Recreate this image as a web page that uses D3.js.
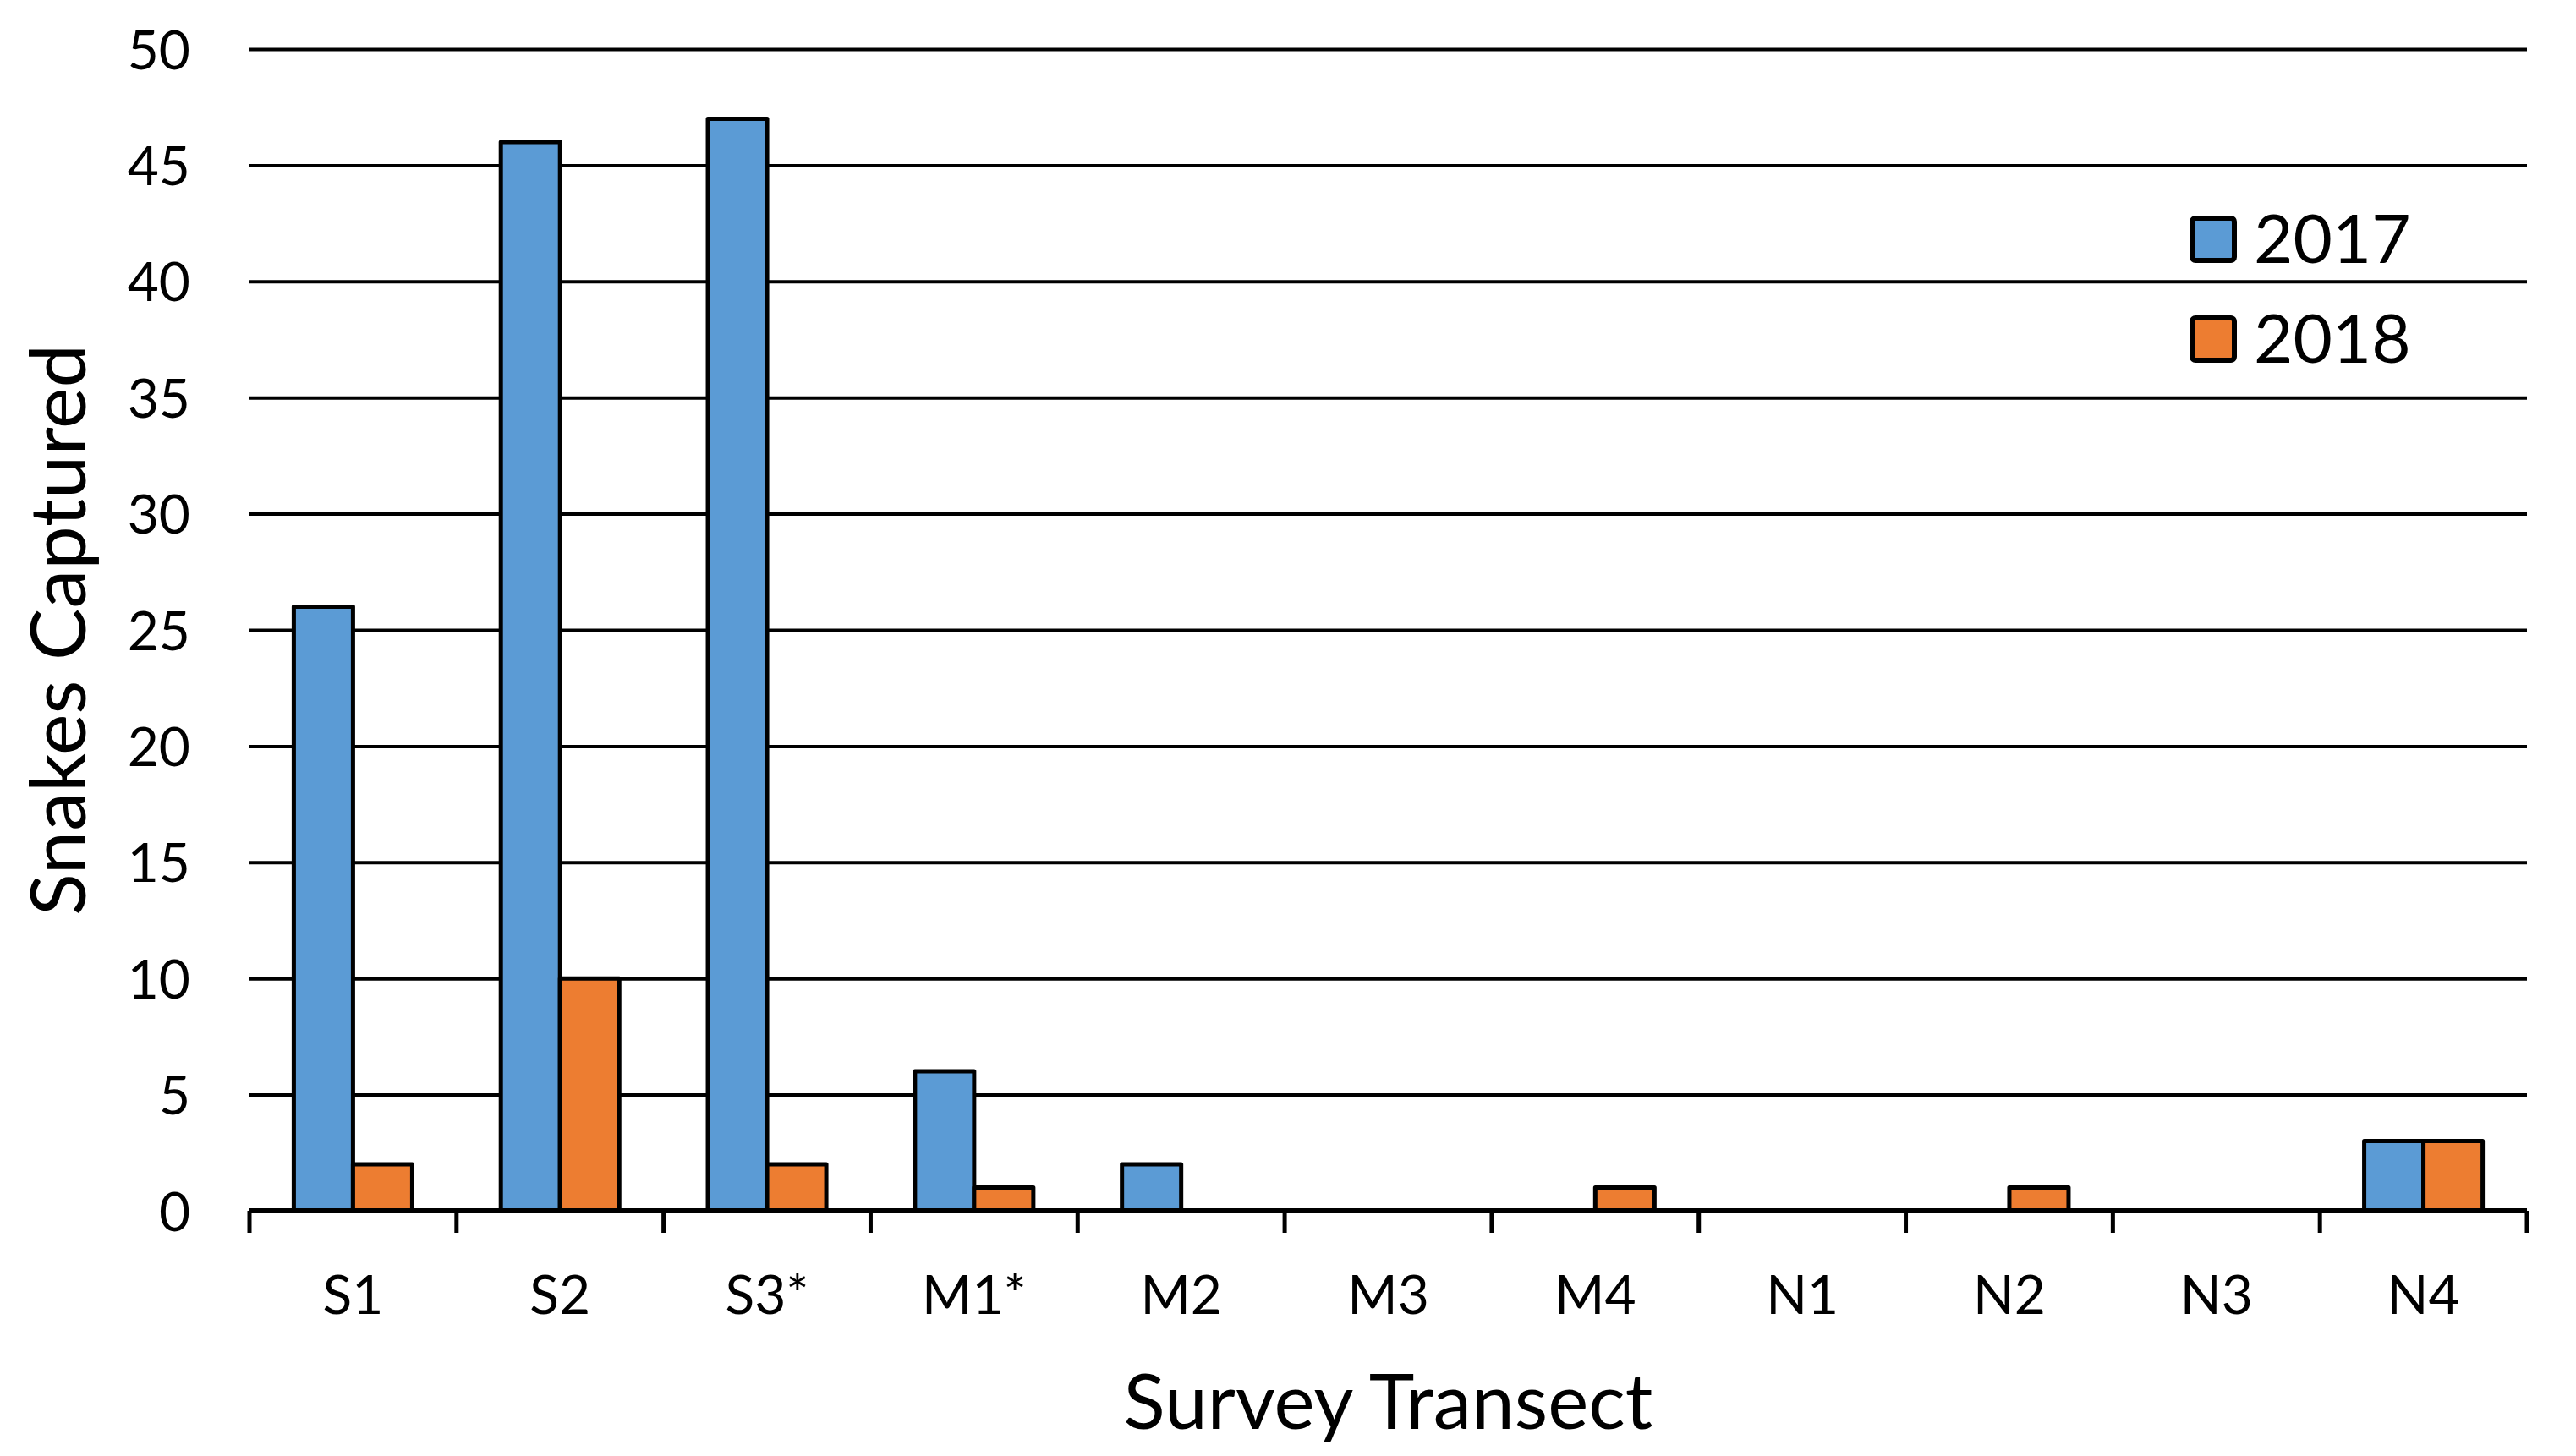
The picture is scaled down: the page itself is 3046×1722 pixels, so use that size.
<!DOCTYPE html>
<html>
<head>
<meta charset="utf-8">
<script src="https://cdn.jsdelivr.net/npm/d3@7"></script>
<style>
  body { margin: 0; background: #fff; }
  svg { display: block; font-family: Lato, "Open Sans", sans-serif; }
</style>
</head>
<body>
<div id="bar-chart"></div>
<script>
const transects = ["S1", "S2", "S3*", "M1*", "M2", "M3", "M4", "N1", "N2", "N3", "N4"];
const years = ["2017", "2018"];
const captures2017 = [26, 46, 47, 6, 2, 0, 0, 0, 0, 0, 3];
const captures2018 = [2, 10, 2, 1, 0, 0, 1, 0, 1, 0, 3];
const yTicks = [0, 5, 10, 15, 20, 25, 30, 35, 40, 45, 50];

const data = transects.map((t, i) => ({
  transect: t,
  values: [
    { year: "2017", value: captures2017[i] },
    { year: "2018", value: captures2018[i] },
  ],
}));

const width = 3046;
const height = 1722;
const margin = { top: 58, right: 58, bottom: 290, left: 295 };
const colors = ["#5B9BD5", "#ED7D31"];

const svg = d3
  .select("#bar-chart")
  .append("svg")
  .attr("width", width)
  .attr("height", height)
  .attr("viewBox", [0, 0, width, height]);

svg.append("rect").attr("width", width).attr("height", height).attr("fill", "#fff");

const x0 = d3
  .scaleBand()
  .domain(transects)
  .range([margin.left, width - margin.right])
  .padding(0);

// bars occupy the middle of each category band
const x1 = d3
  .scaleBand()
  .domain(years)
  .range([x0.bandwidth() * 0.214, x0.bandwidth() * 0.786]);

const y = d3
  .scaleLinear()
  .domain([0, 50])
  .range([height - margin.bottom, margin.top]);

const color = d3.scaleOrdinal().domain(years).range(colors);

// gridlines + y labels
const yAxis = (g) =>
  g
    .attr("transform", `translate(${margin.left},0)`)
    .call(
      d3
        .axisLeft(y)
        .tickValues(yTicks)
        .tickSize(-(width - margin.left - margin.right))
        .tickPadding(70)
    )
    .call((g) => g.select(".domain").remove())
    .call((g) => g.selectAll(".tick line").attr("stroke", "#000").attr("stroke-width", 4))
    .call((g) =>
      g
        .selectAll(".tick text")
        .attr("fill", "#000")
        .attr("font-size", 64)
        .attr("font-family", "Lato, sans-serif")
        .attr("dy", "0.36em")
    );

svg.append("g").call(yAxis);

// bars
const groups = svg
  .append("g")
  .selectAll("g")
  .data(data)
  .join("g")
  .attr("transform", (d) => `translate(${x0(d.transect)},0)`);

groups
  .selectAll("rect")
  .data((d) => d.values.filter((v) => v.value > 0))
  .join("rect")
  .attr("x", (d) => x1(d.year))
  .attr("y", (d) => y(d.value))
  .attr("width", x1.bandwidth())
  .attr("height", (d) => y(0) - y(d.value))
  .attr("fill", (d) => color(d.year))
  .attr("stroke", "#000")
  .attr("stroke-width", 5)
  .attr("stroke-linejoin", "round");

// x axis with ticks at category boundaries
const bounds = transects.map((t) => x0(t)).concat([width - margin.right]);
const xAxisG = svg.append("g");
xAxisG
  .append("line")
  .attr("x1", margin.left)
  .attr("x2", width - margin.right)
  .attr("y1", y(0))
  .attr("y2", y(0))
  .attr("stroke", "#000")
  .attr("stroke-width", 6);
xAxisG
  .selectAll(".bound")
  .data(bounds)
  .join("line")
  .attr("class", "bound")
  .attr("x1", (d) => d)
  .attr("x2", (d) => d)
  .attr("y1", y(0))
  .attr("y2", y(0) + 26)
  .attr("stroke", "#000")
  .attr("stroke-width", 5);
xAxisG
  .selectAll("text")
  .data(transects)
  .join("text")
  .attr("x", (d) => x0(d) + x0.bandwidth() / 2)
  .attr("y", y(0) + 122)
  .attr("text-anchor", "middle")
  .attr("font-size", 64)
  .attr("fill", "#000")
  .text((d) => d);

// axis titles
svg
  .append("text")
  .attr("x", (margin.left + width - margin.right) / 2)
  .attr("y", 1690)
  .attr("text-anchor", "middle")
  .attr("font-size", 91)
  .attr("fill", "#000")
  .text("Survey Transect");

svg
  .append("text")
  .attr("transform", `translate(101,${(y(0) + y(50)) / 2}) rotate(-90)`)
  .attr("text-anchor", "middle")
  .attr("font-size", 92)
  .attr("fill", "#000")
  .text("Snakes Captured");

// legend
const legend = svg
  .append("g")
  .selectAll(".legend")
  .data(color.domain())
  .join("g")
  .attr("class", "legend")
  .attr("transform", (d, i) => `translate(2592,${258 + i * 118})`);

legend
  .append("rect")
  .attr("width", 50)
  .attr("height", 50)
  .attr("rx", 4)
  .attr("fill", color)
  .attr("stroke", "#000")
  .attr("stroke-width", 6);
legend
  .append("text")
  .attr("x", 73)
  .attr("y", 53)
  .attr("font-size", 80)
  .attr("fill", "#000")
  .text((d) => d);
</script>
</body>
</html>
